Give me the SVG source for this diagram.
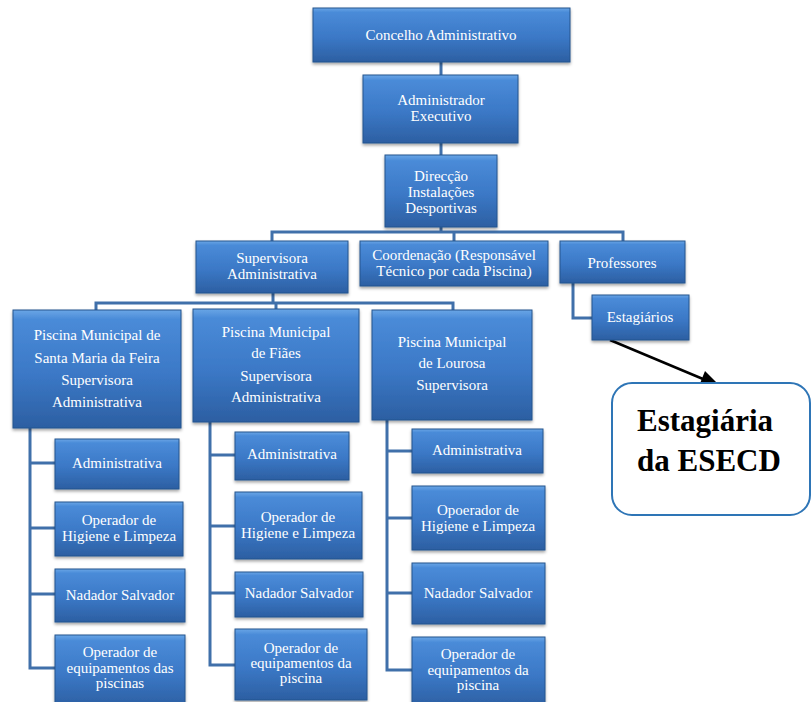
<svg xmlns="http://www.w3.org/2000/svg" width="811" height="702" viewBox="0 0 811 702">
<defs>
<linearGradient id="g2" x1="0" y1="0" x2="0" y2="1">
<stop offset="0" stop-color="#6aa6e6"/>
<stop offset="0.08" stop-color="#4a8bd8"/>
<stop offset="0.55" stop-color="#3b78c6"/>
<stop offset="1" stop-color="#2c5fa2"/>
</linearGradient>
<filter id="sh" x="-10%" y="-10%" width="120%" height="130%">
<feDropShadow dx="0" dy="2" stdDeviation="1.5" flood-color="#000" flood-opacity="0.35"/>
</filter>
</defs>
<style>
.n rect{fill:url(#g2);stroke:#25548e;stroke-width:1;filter:url(#sh)}
.n text{font-family:"Liberation Serif","Times New Roman",serif;font-size:15px;fill:#fff;text-anchor:middle}
.c{fill:none;stroke:#4070aa;stroke-width:3}
.call{fill:#fff;stroke:#2e75b6;stroke-width:2}
.ct{font-family:"Liberation Serif","Times New Roman",serif;font-size:31px;font-weight:bold;fill:#000}
</style>
<rect width="811" height="702" fill="#fff"/>
<g id="connectors">
<path class="c" d="M441,62 V75"/>
<path class="c" d="M441,143 V155"/>
<path class="c" d="M441,227 V232 M272,241 V232 H623 V241 M454,232 V241"/>
<path class="c" d="M573,283 V318 H592"/>
<path class="c" d="M273,293 V303 M96,310 V303 H453 V310 M276,303 V309"/>
<path class="c" d="M30,428 V668 H55 M30,463 H55 M30,528 H55 M30,594 H55"/>
<path class="c" d="M210,422 V665 H235 M210,455 H235 M210,526 H235 M210,593 H235"/>
<path class="c" d="M387,420 V670 H412 M387,451 H412 M387,518 H412 M387,593 H412"/>
<line x1="610" y1="340" x2="703" y2="379" stroke="#000" stroke-width="2.5"/>
<polygon points="719,385 699,386 705,371" fill="#000"/>
</g>
<g id="concelho" class="n"><rect x="313" y="8" width="257" height="54"/><text x="441" y="40">Concelho Administrativo</text></g>
<g id="administrador" class="n"><rect x="363" y="75" width="155" height="68"/><text x="441" y="105">Administrador</text><text x="441" y="121">Executivo</text></g>
<g id="direccao" class="n"><rect x="385" y="155" width="112" height="72"/><text x="441" y="181">Direcção</text><text x="441" y="197">Instalações</text><text x="441" y="213">Desportivas</text></g>
<g id="supervisora" class="n"><rect x="196" y="241" width="152" height="52"/><text x="272" y="263">Supervisora</text><text x="272" y="279">Administrativa</text></g>
<g id="coordenacao" class="n"><rect x="360" y="241" width="188" height="45"/><text x="454" y="260">Coordenação (Responsável</text><text x="454" y="276">Técnico por cada Piscina)</text></g>
<g id="professores" class="n"><rect x="560" y="241" width="125" height="42"/><text x="622" y="268">Professores</text></g>
<g id="estagiarios" class="n"><rect x="592" y="295" width="97" height="45"/><text x="640" y="322">Estagiários</text></g>
<g id="piscina1" class="n"><rect x="13" y="310" width="168" height="118"/><text x="97" y="340">Piscina Municipal de</text><text x="97" y="363">Santa Maria da Feira</text><text x="97" y="385">Supervisora</text><text x="97" y="407">Administrativa</text></g>
<g id="piscina2" class="n"><rect x="193" y="309" width="166" height="113"/><text x="276" y="337">Piscina Municipal</text><text x="276" y="358">de Fiães</text><text x="276" y="381">Supervisora</text><text x="276" y="402">Administrativa</text></g>
<g id="piscina3" class="n"><rect x="372" y="310" width="160" height="110"/><text x="452" y="347">Piscina Municipal</text><text x="452" y="368">de Lourosa</text><text x="452" y="390">Supervisora</text></g>
<g id="adm1" class="n"><rect x="55" y="439" width="124" height="50"/><text x="117" y="468">Administrativa</text></g>
<g id="hig1" class="n"><rect x="55" y="502" width="128" height="54"/><text x="119" y="525">Operador de</text><text x="119" y="541">Higiene  e Limpeza</text></g>
<g id="nad1" class="n"><rect x="55" y="569" width="130" height="53"/><text x="120" y="600">Nadador Salvador</text></g>
<g id="eq1" class="n"><rect x="55" y="635" width="130" height="72"/><text x="120" y="657">Operador de</text><text x="120" y="673">equipamentos das</text><text x="120" y="688">piscinas</text></g>
<g id="adm2" class="n"><rect x="235" y="432" width="114" height="48"/><text x="292" y="459">Administrativa</text></g>
<g id="hig2" class="n"><rect x="235" y="492" width="127" height="67"/><text x="298" y="522">Operador de</text><text x="298" y="538">Higiene  e Limpeza</text></g>
<g id="nad2" class="n"><rect x="235" y="572" width="128" height="45"/><text x="299" y="598">Nadador Salvador</text></g>
<g id="eq2" class="n"><rect x="235" y="629" width="132" height="71"/><text x="301" y="653">Operador de</text><text x="301" y="668">equipamentos da</text><text x="301" y="683">piscina</text></g>
<g id="adm3" class="n"><rect x="412" y="429" width="131" height="44"/><text x="477" y="455">Administrativa</text></g>
<g id="hig3" class="n"><rect x="412" y="486" width="133" height="64"/><text x="478" y="515">Opoerador de</text><text x="478" y="531">Higiene  e Limpeza</text></g>
<g id="nad3" class="n"><rect x="412" y="563" width="133" height="61"/><text x="478" y="598">Nadador Salvador</text></g>
<g id="eq3" class="n"><rect x="412" y="637" width="133" height="70"/><text x="478" y="659">Operador de</text><text x="478" y="675">equipamentos da</text><text x="478" y="690">piscina</text></g>
<g id="callout"><rect class="call" x="612" y="383" width="198" height="132" rx="20"/><text class="ct" x="637" y="431">Estagiária</text><text class="ct" x="637" y="471">da ESECD</text></g>
</svg>
